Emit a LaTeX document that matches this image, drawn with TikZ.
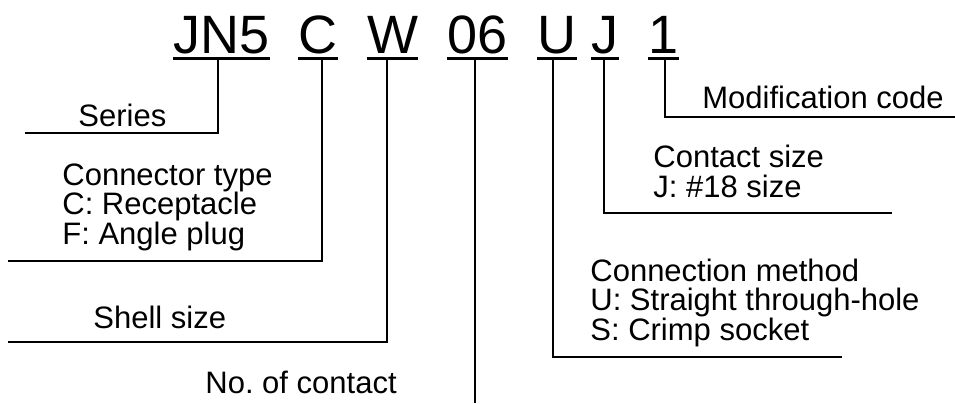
\documentclass[tikz,border=0pt]{standalone}
\usepackage{fontspec}
\setmainfont{Liberation Sans}
\usepackage{tikz}
\usetikzlibrary{positioning}
\tikzset{
	code/.style = {inner xsep=0pt, inner ysep=2.5pt, font=\fontsize{27}{32}\selectfont},
	desc/.style = {inner sep=0pt, anchor=base west, align=left, font=\fontsize{15.5}{14.75}\selectfont},
	uline/.style = {line width=1.5pt},
	leader/.style = {line width=0.85pt},
	tmp/.style = {coordinate}
}
\begin{document}
\begin{tikzpicture}[x=0.5pt,y=-0.5pt]
    \useasboundingbox (0,0) rectangle (955,403);

    \node [code, anchor=base west] (serie) at (173,53) {JN5};
    \node [code, base right=14pt of serie] (tipo) {C};
    \node [code, base right=14.5pt of tipo] (carcasa) {W};
    \node [code, base right=14.5pt of carcasa] (contactos) {06};
    \node [code, base right=14.5pt of contactos] (metodo) {U};
    \node [code, base right=7pt of metodo] (tamano) {J};
    \node [code, base right=14.5pt of tamano] (modif) {1};

    \node [desc] (textserie) at (78,126) {Series};
    \node [desc] (texttipo) at (62,244) {Connector type\\C: Receptacle\\F: Angle plug};
    \node [desc] (textcarcasa) at (93,328) {Shell size};
    \node [desc] (textcontactos) at (205,393) {No.\ of contact};
    \node [desc] (textmetodo) at (590,340) {Connection method\\U: Straight through-hole\\S: Crimp socket};
    \node [desc] (texttamano) at (653,197) {Contact size\\J: \#18 size};
    \node [desc] (textmodif) at (702,108) {Modification code};

    \node [tmp] (codoserie) at (218,133) {};
    \node [tmp] (finserie) at (25,133) {};
    \node [tmp] (codotipo) at (322,261) {};
    \node [tmp] (fintipo) at (8,261) {};
    \node [tmp] (codocarcasa) at (387,342) {};
    \node [tmp] (fincarcasa) at (8,342) {};
    \node [tmp] (fincontactos) at (475,403) {};
    \node [tmp] (codometodo) at (553,357) {};
    \node [tmp] (finmetodo) at (842,357) {};
    \node [tmp] (codotamano) at (604,213) {};
    \node [tmp] (fintamano) at (892,213) {};
    \node [tmp] (codomodif) at (665,117) {};
    \node [tmp] (finmodif) at (955,117) {};

    \draw [uline] (serie.south west) -- (serie.south east);
    \draw [uline] (tipo.south west) -- (tipo.south east);
    \draw [uline] (carcasa.south west) -- (carcasa.south east);
    \draw [uline] (contactos.south west) -- (contactos.south east);
    \draw [uline] (metodo.south west) -- (metodo.south east);
    \draw [uline] (tamano.south west) -- (tamano.south east);
    \draw [uline] (modif.south west) -- (modif.south east);

    \draw [leader] (serie.south -| codoserie) -- (codoserie) -- (finserie);
    \draw [leader] (tipo.south -| codotipo) -- (codotipo) -- (fintipo);
    \draw [leader] (carcasa.south -| codocarcasa) -- (codocarcasa) -- (fincarcasa);
    \draw [leader] (contactos.south -| fincontactos) -- (fincontactos);
    \draw [leader] (metodo.south -| codometodo) -- (codometodo) -- (finmetodo);
    \draw [leader] (tamano.south -| codotamano) -- (codotamano) -- (fintamano);
    \draw [leader] (modif.south -| codomodif) -- (codomodif) -- (finmodif);
  \end{tikzpicture}
\end{document}
